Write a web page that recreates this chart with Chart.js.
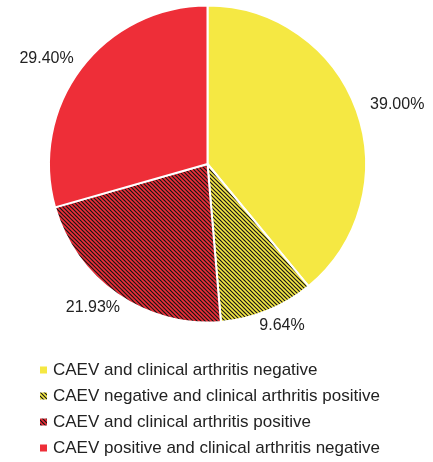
<!DOCTYPE html>
<html><head><meta charset="utf-8">
<script src="https://cdn.jsdelivr.net/npm/chart.js@4.4.0/dist/chart.umd.min.js"></script>
<style>html,body{margin:0;padding:0;background:#fff;overflow:hidden}#wrap{width:433px;height:462px;position:relative}</style>
</head><body><div id="wrap"><canvas id="c"></canvas></div>
<script>
const categories = ['CAEV and clinical arthritis negative','CAEV negative and clinical arthritis positive','CAEV and clinical arthritis positive','CAEV positive and clinical arthritis negative'];
const percentages = [39.00, 9.64, 21.93, 29.40];
const baseColors = ['#F5E843','#F5E843','#EE2E38','#EE2E38'];
const hatched = [false, true, true, false];

function hatch(color){
  const S = 8;
  const c = document.createElement('canvas'); c.width = S; c.height = S;
  const x = c.getContext('2d');
  x.fillStyle = color; x.fillRect(0,0,S,S);
  x.strokeStyle = '#161616'; x.lineWidth = 1.2;
  x.beginPath();
  for (let k = -8; k <= 8; k += 4) { x.moveTo(k-2, -2); x.lineTo(k+S+2, S+2); }
  x.stroke();
  return x.createPattern(c,'repeat');
}
const fills = baseColors.map((c,i)=> hatched[i] ? hatch(c) : c);
const FONT = '"Liberation Sans", Arial, sans-serif';

const labelPlugin = {
  id:'pieLabels',
  afterDatasetsDraw(chart){
    const ctx = chart.ctx; const meta = chart.getDatasetMeta(0);
    ctx.save();
    ctx.font = '16px ' + FONT; ctx.fillStyle = '#222';
    ctx.textAlign = 'center'; ctx.textBaseline = 'middle';
    meta.data.forEach((arc,i)=>{
      const p = arc.getProps(['x','y','startAngle','endAngle','outerRadius'], true);
      const mid = (p.startAngle + p.endAngle)/2;
      const ux = Math.cos(mid), uy = Math.sin(mid);
      const text = percentages[i].toFixed(2) + '%';
      const w = ctx.measureText(text).width;
      const d = p.outerRadius + 16;
      ctx.fillText(text, p.x + ux*d + ux*w/2, p.y + uy*d);
    });
    ctx.restore();
  }
};

const legendPlugin = {
  id:'customLegend',
  afterDraw(chart){
    const ctx = chart.ctx;
    const ds = chart.data.datasets[0];
    ctx.save();
    ctx.font = '17px ' + FONT;
    ctx.textAlign = 'left'; ctx.textBaseline = 'middle';
    chart.data.labels.forEach((lab,i)=>{
      const y = 370 + i*26;
      ctx.fillStyle = ds.backgroundColor[i];
      ctx.fillRect(40, y-3.5, 7, 7);
      ctx.fillStyle = '#222';
      ctx.fillText(lab, 53, y);
    });
    ctx.restore();
  }
};

new Chart(document.getElementById('c'), {
  type:'pie',
  data:{ labels: categories, datasets:[{ data: percentages, backgroundColor: fills, borderColor:'#fff', borderWidth:2, radius:158.5 }]},
  options:{
    responsive:true, maintainAspectRatio:false, animation:false,
    layout:{ padding:{left:0, right:18, top:0, bottom:134} },
    plugins:{ legend:{display:false}, tooltip:{enabled:false} }
  },
  plugins:[labelPlugin, legendPlugin]
});
</script>
</body></html>
